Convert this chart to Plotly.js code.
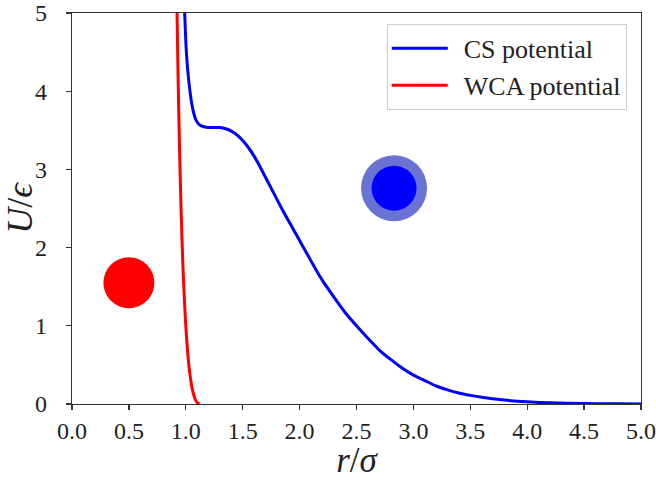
<!DOCTYPE html>
<html>
<head>
<meta charset="utf-8">
<script src="https://cdn.plot.ly/plotly-3.0.1.min.js"></script>
<style>html,body{margin:0;padding:0;background:#fff;}#chart{width:656px;height:480px;}</style>
</head>
<body>
<div id="chart"></div>
<script>
// CS potential (blue)
const csR = [0.98, 0.99, 1.005, 1.03, 1.06, 1.09, 1.12, 1.16, 1.2, 1.25, 1.3, 1.35, 1.4, 1.45, 1.5, 1.55, 1.6, 1.65, 1.7, 1.75, 1.8, 1.85, 1.9, 1.95, 2.0, 2.05, 2.1, 2.15, 2.2, 2.3, 2.4, 2.5, 2.6, 2.7, 2.8, 2.9, 3.0, 3.1, 3.2, 3.3, 3.4, 3.5, 3.6, 3.8, 4.0, 4.2, 4.5, 4.8, 5.0];
const csU = [5.36, 5.0, 4.5, 4.08, 3.78, 3.63, 3.57, 3.545, 3.535, 3.535, 3.535, 3.52, 3.49, 3.44, 3.37, 3.28, 3.17, 3.04, 2.90, 2.76, 2.62, 2.48, 2.35, 2.22, 2.09, 1.96, 1.83, 1.70, 1.58, 1.37, 1.17, 1.00, 0.84, 0.69, 0.57, 0.46, 0.37, 0.30, 0.23, 0.18, 0.14, 0.11, 0.085, 0.05, 0.028, 0.015, 0.006, 0.002, 0.001];
// WCA potential (red)
const wcaR = [0.92, 0.93, 0.94, 0.95, 0.96, 0.97, 0.98, 0.99, 1.0, 1.02, 1.04, 1.06, 1.08, 1.10, 1.12, 1.1225];
const wcaU = [5.28, 4.37, 3.61, 2.96, 2.42, 1.96, 1.58, 1.26, 1.0, 0.60, 0.34, 0.17, 0.07, 0.017, 0.0004, 0.0];
// particle sketches
const redParticleX = [0.5];
const redParticleY = [1.55];
const blueParticleX = [2.83];
const blueParticleY = [2.76];
const xTicks = [0, 0.5, 1, 1.5, 2, 2.5, 3, 3.5, 4, 4.5, 5];
const yTicks = [0, 1, 2, 3, 4, 5];
const seriesNames = ['CS potential', 'WCA potential'];

const serif = 'Liberation Serif, Times New Roman, serif';

const traces = [
  {x: csR, y: csU, mode: 'lines', name: seriesNames[0], legendgroup: 'a', line: {color: '#0000ff', width: 3, shape: 'spline', smoothing: 0.6}},
  {x: wcaR, y: wcaU, mode: 'lines', name: seriesNames[1], legendgroup: 'b', line: {color: '#ff0000', width: 3, shape: 'spline', smoothing: 0.6}},
  {x: redParticleX, y: redParticleY, mode: 'markers', showlegend: false, marker: {color: '#ff0000', size: 51, line: {width: 0}}},
  {x: blueParticleX, y: blueParticleY, mode: 'markers', showlegend: false, marker: {color: 'rgb(106,114,212)', size: 66, line: {width: 0}}},
  {x: blueParticleX, y: blueParticleY, mode: 'markers', showlegend: false, marker: {color: '#0000ff', size: 45, line: {width: 0}}}
];

const axisCommon = {
  showgrid: false, zeroline: false, showline: true, mirror: true,
  linecolor: '#333', linewidth: 1.2, ticks: 'outside', ticklen: 5, tickwidth: 1.2, tickcolor: '#333',
  tickfont: {family: serif, size: 24, color: '#222'}, ticklabeloverflow: 'allow'
};

const layout = {
  width: 656, height: 480,
  margin: {l: 72, r: 15, t: 13, b: 76},
  paper_bgcolor: '#fff', plot_bgcolor: '#fff',
  showlegend: true, hovermode: false,
  xaxis: Object.assign({}, axisCommon, {
    range: [0, 5], tickvals: xTicks, tickformat: '.1f', ticklabelstandoff: 0,
    title: {text: '<i>r</i>/<i>σ</i>', font: {family: serif, size: 35, color: '#222'}, standoff: 8}
  }),
  yaxis: Object.assign({}, axisCommon, {
    range: [0, 5], tickvals: yTicks, ticklabelstandoff: 14,
    title: {text: '<i>U</i>/<i>ϵ</i>', font: {family: serif, size: 36, color: '#222'}, standoff: 2}
  }),
  legend: {
    x: 0.975, y: 0.972, xanchor: 'right', yanchor: 'top',
    bgcolor: 'rgba(255,255,255,0.8)', bordercolor: '#cccccc', borderwidth: 1,
    font: {family: serif, size: 26, color: '#222'}, traceorder: 'grouped', tracegroupgap: 0, itemwidth: 66
  }
};

Plotly.newPlot('chart', traces, layout, {displayModeBar: false, staticPlot: true}).then(function () {
  // lengthen the legend line samples to match the reference
  document.querySelectorAll('#chart .legend .legendlines path').forEach(function (p) {
    p.setAttribute('d', 'M4,0h56');
  });
});
</script>
</body>
</html>
